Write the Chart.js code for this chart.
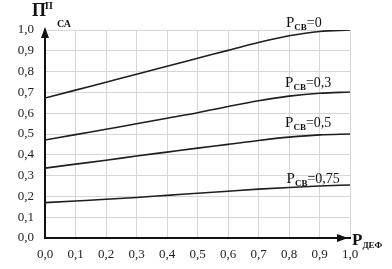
<!DOCTYPE html>
<html>
<head>
<meta charset="utf-8">
<script src="https://cdn.jsdelivr.net/npm/chart.js@4/dist/chart.umd.min.js"></script>
<style>
  html, body { margin: 0; padding: 0; background: #fff; }
  #wrap { width: 392px; height: 269px; }
</style>
</head>
<body>
<div id="wrap"><canvas id="chart"></canvas></div>
<script>
// P_ДЕФ values along the x axis
const pDef = [0, 0.1, 0.2, 0.3, 0.4, 0.5, 0.6, 0.7, 0.8, 0.9, 1.0];

// curves, one per P_СВ value
const curve0 = [0.673, 0.711, 0.749, 0.787, 0.826, 0.864, 0.902, 0.940, 0.972, 0.993, 1.0];
const curve03 = [0.471, 0.497, 0.523, 0.549, 0.576, 0.602, 0.632, 0.660, 0.682, 0.696, 0.702];
const curve05 = [0.336, 0.355, 0.374, 0.394, 0.413, 0.432, 0.450, 0.469, 0.485, 0.496, 0.500];
const curve075 = [0.170, 0.178, 0.186, 0.195, 0.205, 0.215, 0.225, 0.235, 0.243, 0.250, 0.255];

// curve labels: P_СВ value text and where the label sits (data coords)
const curveLabels = ['0', '0,3', '0,5', '0,75'];
const labelX = [0.79, 0.787, 0.787, 0.792];
const labelY = [1.013, 0.726, 0.534, 0.264];

const serif = '"Liberation Serif", "Times New Roman", serif';

function makeSet(values) {
  return {
    data: pDef.map((x, i) => ({ x: x, y: values[i] })),
    borderColor: '#1e1e1e',
    borderWidth: 1.6,
    pointRadius: 0,
    fill: false,
    cubicInterpolationMode: 'monotone'
  };
}

// draws main text with a subscript (and optional tail), returns end x
function drawSubText(ctx, x, y, main, sub, tail, mainSize, subSize, weight) {
  ctx.textAlign = 'left';
  ctx.textBaseline = 'alphabetic';
  ctx.font = weight + ' ' + mainSize + 'px ' + serif;
  ctx.fillText(main, x, y);
  x += ctx.measureText(main).width;
  ctx.font = 'bold ' + subSize + 'px ' + serif;
  ctx.fillText(sub, x, y + 3);
  x += ctx.measureText(sub).width;
  if (tail) {
    ctx.font = (mainSize - 1) + 'px ' + serif;
    ctx.fillText(tail, x, y);
    x += ctx.measureText(tail).width;
  }
  return x;
}

const decorPlugin = {
  id: 'decor',
  afterDraw(chart) {
    const ctx = chart.ctx;
    const xs = chart.scales.x;
    const ys = chart.scales.y;
    const area = chart.chartArea;
    ctx.save();
    ctx.fillStyle = '#111';
    ctx.strokeStyle = '#111';

    // axis arrows
    ctx.beginPath();
    ctx.moveTo(area.left, area.top - 3);
    ctx.lineTo(area.left - 4, area.top + 8);
    ctx.lineTo(area.left + 4, area.top + 8);
    ctx.closePath();
    ctx.fill();
    ctx.beginPath();
    ctx.moveTo(area.right - 2, area.bottom);
    ctx.lineTo(area.right - 13, area.bottom - 4);
    ctx.lineTo(area.right - 13, area.bottom + 4);
    ctx.closePath();
    ctx.fill();

    // curve labels
    curveLabels.forEach((t, i) => {
      drawSubText(ctx, xs.getPixelForValue(labelX[i]), ys.getPixelForValue(labelY[i]),
        'P', 'СВ', '=' + t, 15, 9, 'normal');
    });

    // y axis title П^П_СА
    ctx.textAlign = 'left';
    ctx.font = 'bold 18px ' + serif;
    ctx.fillText('П', 32, 16);
    ctx.font = 'bold 10px ' + serif;
    ctx.fillText('П', 45, 9);
    ctx.font = 'bold 10px ' + serif;
    ctx.fillText('СА', 57, 27);

    // x axis title P_ДЕФ
    drawSubText(ctx, area.right + 2, area.bottom + 7, 'P', 'ДЕФ', '', 17, 9, 'bold');
    ctx.restore();
  }
};

new Chart(document.getElementById('chart').getContext('2d'), {
  type: 'line',
  data: {
    datasets: [makeSet(curve0), makeSet(curve03), makeSet(curve05), makeSet(curve075)]
  },
  options: {
    responsive: true,
    maintainAspectRatio: false,
    animation: false,
    layout: { padding: { top: 30, right: 42, bottom: 0, left: 0 } },
    plugins: {
      legend: { display: false },
      tooltip: { enabled: false }
    },
    scales: {
      x: {
        type: 'linear',
        min: 0,
        max: 1,
        afterFit(scale) { scale.height = 31; },
        grid: { color: '#d6d6d6', lineWidth: 1, drawTicks: false },
        border: { color: '#111', width: 2 },
        ticks: {
          stepSize: 0.1,
          padding: 9,
          color: '#222',
          font: { family: serif, size: 13 },
          callback: v => v.toFixed(1).replace('.', ',')
        }
      },
      y: {
        min: 0,
        max: 1,
        afterFit(scale) { scale.width = 45; },
        grid: { color: '#d6d6d6', lineWidth: 1, drawTicks: false },
        border: { color: '#111', width: 2 },
        ticks: {
          stepSize: 0.1,
          padding: 11,
          color: '#222',
          font: { family: serif, size: 13 },
          callback: v => v.toFixed(1).replace('.', ',')
        }
      }
    }
  },
  plugins: [decorPlugin]
});
</script>
</body>
</html>
